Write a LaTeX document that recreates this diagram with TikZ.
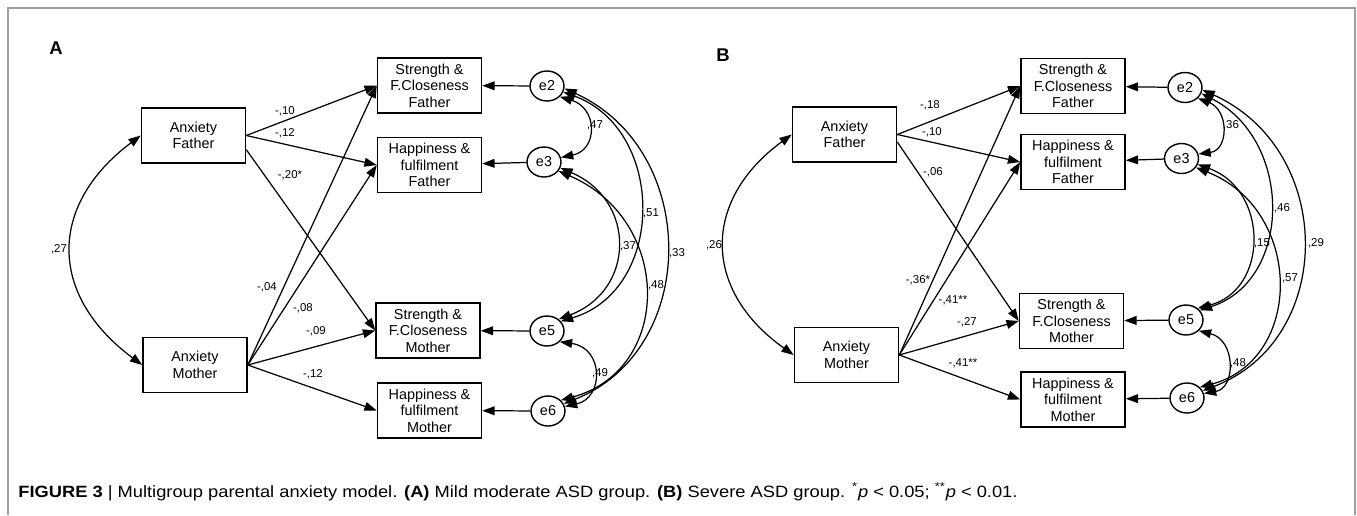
\documentclass[tikz,border=0pt]{standalone}
\usepackage{fontspec}
\setmainfont{Liberation Sans}
\usetikzlibrary{arrows.meta,shapes.geometric}
\begin{document}
\begin{tikzpicture}[x=0.02cm,y=-0.02cm,
  box/.style={draw,line width=0.9pt,minimum width=2.08cm,minimum height=1.1cm,align=center,inner sep=0pt,font=\fontsize{8.2}{9.4}\selectfont},
  err/.style={draw,ellipse,line width=0.8pt,minimum width=0.68cm,minimum height=0.6cm,inner sep=0pt,font=\fontsize{8.2}{9.4}\selectfont},
  lab/.style={inner sep=0pt,font=\fontsize{6.5}{7}\selectfont},
  arr/.style={line width=0.7pt,-{Triangle[length=7pt,width=5pt]}},
  cov/.style={line width=0.7pt,{Triangle[length=7pt,width=5pt]}-{Triangle[length=7pt,width=5pt]}},
  frame/.style={draw=gray!75,line width=0.8pt},
  panel/.style={inner sep=0pt,font=\fontsize{10.5}{12}\selectfont\bfseries}]
\useasboundingbox (0,0) rectangle (1357,515);
\draw[frame] (8,515) -- (8,8) -- (1355,8) -- (1355,515);

% ---------------- Panel A ----------------
\node[panel] (pA) at (56,48) {A};
\node[box] (afA) at (193.5,135.5) {Anxiety\\Father};
\node[box] (amA) at (195,365) {Anxiety\\Mother};
\node[box] (sffA) at (429.5,85.5) {Strength \&\\F.Closeness\\Father};
\node[box] (hffA) at (429.5,165) {Happiness \&\\fulfilment\\Father};
\node[box] (sfmA) at (428,330.5) {Strength \&\\F.Closeness\\Mother};
\node[box] (hfmA) at (429.5,410.5) {Happiness \&\\fulfilment\\Mother};
\node[err] (e2A) at (547,86) {e2};
\node[err] (e3A) at (544,162) {e3};
\node[err] (e5A) at (547,331) {e5};
\node[err] (e6A) at (548,411) {e6};

\draw[arr] (afA.east) -- (sffA.west);
\draw[arr] (afA.east) -- (hffA.west);
\draw[arr] (afA.-15) -- (sfmA.west);
\draw[arr] (amA.east) -- (sffA.west);
\draw[arr] (amA.east) -- (hffA.west);
\draw[arr] (amA.east) -- (sfmA.west);
\draw[arr] (amA.east) -- (hfmA.west);
\node[lab] (lA1) at (285,111) {-,10};
\node[lab] (lA2) at (285,133) {-,12};
\node[lab] (lA3) at (290,175) {-,20*};
\node[lab] (lA4) at (267,287) {-,04};
\node[lab] (lA5) at (303,308) {-,08};
\node[lab] (lA6) at (316,331) {-,09};
\node[lab] (lA7) at (313,374) {-,12};

\draw[arr] (e2A) -- (sffA);
\draw[arr] (e3A) -- (hffA);
\draw[arr] (e5A) -- (sfmA);
\draw[arr] (e6A) -- (hfmA);

\draw[cov] (afA.west) .. controls (48,205) and (48,295) .. (amA.west);
\node[lab] (lA27) at (59,249) {,27};

\draw[cov] (e2A.-40) .. controls (598,108) and (598,150) .. (e3A.15);
\draw[cov] (e2A.-20) .. controls (666,130) and (666,290) .. (e5A.35);
\draw[cov] (e2A.-8) .. controls (700,150) and (700,350) .. (e6A.25);
\draw[cov] (e3A.-20) .. controls (636,200) and (636,290) .. (e5A.45);
\draw[cov] (e3A.-32) .. controls (673,220) and (673,370) .. (e6A.40);
\draw[cov] (e5A.-40) .. controls (604,348) and (604,398) .. (e6A.15);
\node[lab] (lA47) at (595,125) {,47};
\node[lab] (lA51) at (651,213) {,51};
\node[lab] (lA37) at (628,246) {,37};
\node[lab] (lA33) at (677,253) {,33};
\node[lab] (lA48) at (656,285) {,48};
\node[lab] (lA49) at (600,373) {,49};

% ---------------- Panel B ----------------
\node[panel] (pB) at (723,55) {B};
\node[box] (afB) at (844.5,134.5) {Anxiety\\Father};
\node[box] (amB) at (846.5,355) {Anxiety\\Mother};
\node[box] (sffB) at (1073,86) {Strength \&\\F.Closeness\\Father};
\node[box] (hffB) at (1073,162) {Happiness \&\\fulfilment\\Father};
\node[box] (sfmB) at (1071.5,321) {Strength \&\\F.Closeness\\Mother};
\node[box] (hfmB) at (1073,399.5) {Happiness \&\\fulfilment\\Mother};
\node[err] (e2B) at (1185,87.5) {e2};
\node[err] (e3B) at (1181.5,158.5) {e3};
\node[err] (e5B) at (1186,320) {e5};
\node[err] (e6B) at (1187,398) {e6};

\draw[arr] (afB.east) -- (sffB.west);
\draw[arr] (afB.east) -- (hffB.west);
\draw[arr] (afB.-8) -- (sfmB.west);
\draw[arr] (amB.east) -- (sffB.west);
\draw[arr] (amB.east) -- (hffB.west);
\draw[arr] (amB.east) -- (sfmB.west);
\draw[arr] (amB.east) -- (hfmB.west);
\node[lab] (lB1) at (930,105) {-,18};
\node[lab] (lB2) at (932,132) {-,10};
\node[lab] (lB3) at (933,172) {-,06};
\node[lab] (lB4) at (918,280) {-,36*};
\node[lab] (lB5) at (953,300) {-,41**};
\node[lab] (lB6) at (967,322) {-,27};
\node[lab] (lB7) at (963,363) {-,41**};

\draw[arr] (e2B) -- (sffB);
\draw[arr] (e3B) -- (hffB);
\draw[arr] (e5B) -- (sfmB);
\draw[arr] (e6B) -- (hfmB);

\draw[cov] (afB.west) .. controls (702,200) and (702,290) .. (amB.west);
\node[lab] (lB26) at (714,245) {,26};

\draw[cov] (e2B.-40) .. controls (1229,110) and (1229,150) .. (e3B.15);
\draw[cov] (e2B.-20) .. controls (1293,140) and (1293,280) .. (e5B.35);
\draw[cov] (e2B.-8) .. controls (1336,150) and (1336,340) .. (e6B.25);
\draw[cov] (e3B.-20) .. controls (1269,190) and (1269,290) .. (e5B.45);
\draw[cov] (e3B.-32) .. controls (1304,210) and (1304,360) .. (e6B.40);
\draw[cov] (e5B.-40) .. controls (1236,340) and (1236,388) .. (e6B.15);
\node[lab] (lB36) at (1231,125) {,36};
\node[lab] (lB46) at (1282,208) {,46};
\node[lab] (lB15) at (1262,243) {,15};
\node[lab] (lB29) at (1316,243) {,29};
\node[lab] (lB57) at (1290,278) {,57};
\node[lab] (lB48) at (1238,363) {,48};

% ---------------- Caption ----------------
\node[anchor=base west,inner sep=0pt,font=\fontsize{9.3}{11}\selectfont] (cap) at (18,497)
  {\scalebox{1.12}[1]{\textbf{FIGURE 3} | Multigroup parental anxiety model. \textbf{(A)} Mild moderate ASD group. \textbf{(B)} Severe ASD group. \textsuperscript{*}\textit{p} < 0.05; \textsuperscript{**}\textit{p} < 0.01.}};
\end{tikzpicture}
\end{document}
